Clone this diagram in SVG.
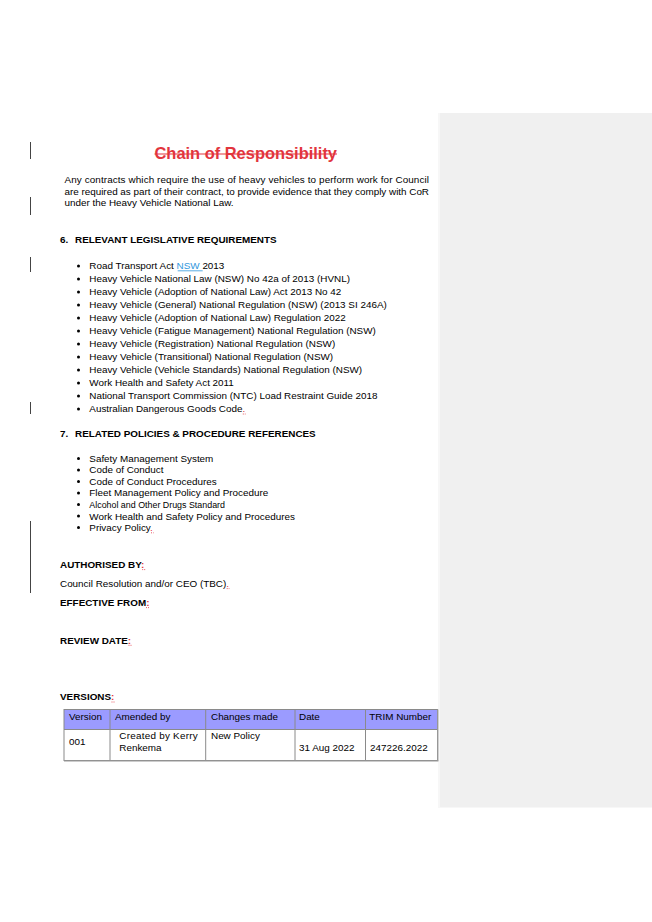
<svg xmlns="http://www.w3.org/2000/svg" width="652" height="922" viewBox="0 0 652 922">
<style>
text{font-family:"Liberation Sans",Arial,sans-serif;fill:#000;}
.b{font-size:9.9px;}
.s{font-size:8.9px;}
.h{font-size:9.9px;font-weight:bold;}
.title{font-size:16.6px;font-weight:bold;fill:#e2353d;}
.red{fill:#e2353d;}
.link{fill:#2f97dd;}
.bar{stroke:#444;stroke-width:1;}
.dot{stroke:#e2353d;stroke-width:0.8;stroke-dasharray:1,1;}
.cell{fill:none;stroke:#8a8a8a;stroke-width:1;}
</style>
<rect width="652" height="922" fill="#fff"/>
<g id="comment-pane">
<rect x="438" y="113" width="214" height="695" fill="#f7f7f7"/>
<rect x="440" y="113" width="212" height="694" fill="#f0f0f0"/>
</g>
<g id="change-bars">
<line class="bar" x1="30.5" y1="142" x2="30.5" y2="159"/>
<line class="bar" x1="30.5" y1="197" x2="30.5" y2="215"/>
<line class="bar" x1="30.5" y1="257" x2="30.5" y2="272"/>
<line class="bar" x1="30.5" y1="402" x2="30.5" y2="414"/>
<line class="bar" x1="30.5" y1="521" x2="30.5" y2="593"/>
</g>
<g id="title">
<text class="title" x="154.5" y="158.5" textLength="182.5" lengthAdjust="spacingAndGlyphs">Chain of Responsibility</text>
<line x1="154.5" y1="154" x2="337" y2="154" stroke="#e2353d" stroke-width="1.2"/>
</g>
<g id="intro">
<text class="b" x="64.5" y="182.8" textLength="364.5" lengthAdjust="spacing">Any contracts which require the use of heavy vehicles to perform work for Council</text>
<text class="b" x="64.5" y="194.5" textLength="364.5" lengthAdjust="spacing">are required as part of their contract, to provide evidence that they comply with CoR</text>
<text class="b" x="64.5" y="206.2">under the Heavy Vehicle National Law.</text>
</g>
<g id="section6">
<text class="h" x="60" y="242.8">6.</text>
<text class="h" x="75" y="242.8">RELEVANT LEGISLATIVE REQUIREMENTS</text>
<g class="bullets" fill="#000">
<circle cx="78.5" cy="266" r="1.5"/><circle cx="78.5" cy="279" r="1.5"/><circle cx="78.5" cy="292" r="1.5"/><circle cx="78.5" cy="305" r="1.5"/><circle cx="78.5" cy="318" r="1.5"/><circle cx="78.5" cy="331" r="1.5"/><circle cx="78.5" cy="344" r="1.5"/><circle cx="78.5" cy="357" r="1.5"/><circle cx="78.5" cy="370" r="1.5"/><circle cx="78.5" cy="383" r="1.5"/><circle cx="78.5" cy="396" r="1.5"/><circle cx="78.5" cy="409" r="1.5"/>
</g>
<text class="b" x="89.3" y="269.2">Road Transport Act <tspan class="link">NSW </tspan>2013</text>
<line x1="177.7" y1="270.8" x2="202.7" y2="270.8" stroke="#2f97dd" stroke-width="0.8"/>
<text class="b" x="89.3" y="282.2">Heavy Vehicle National Law (NSW) No 42a of 2013 (HVNL)</text>
<text class="b" x="89.3" y="295.2">Heavy Vehicle (Adoption of National Law) Act 2013 No 42</text>
<text class="b" x="89.3" y="308.2">Heavy Vehicle (General) National Regulation (NSW) (2013 SI 246A)</text>
<text class="b" x="89.3" y="321.2">Heavy Vehicle (Adoption of National Law) Regulation 2022</text>
<text class="b" x="89.3" y="334.2">Heavy Vehicle (Fatigue Management) National Regulation (NSW)</text>
<text class="b" x="89.3" y="347.2">Heavy Vehicle (Registration) National Regulation (NSW)</text>
<text class="b" x="89.3" y="360.2">Heavy Vehicle (Transitional) National Regulation (NSW)</text>
<text class="b" x="89.3" y="373.2">Heavy Vehicle (Vehicle Standards) National Regulation (NSW)</text>
<text class="b" x="89.3" y="386.2">Work Health and Safety Act 2011</text>
<text class="b" x="89.3" y="399.2">National Transport Commission (NTC) Load Restraint Guide 2018</text>
<text class="b" x="89.3" y="412.2">Australian Dangerous Goods Code<tspan class="red">.</tspan></text>
<line class="dot" x1="242.8" y1="414" x2="245.6" y2="414"/>
</g>
<g id="section7">
<text class="h" x="60" y="436.8">7.</text>
<text class="h" x="75" y="436.8">RELATED POLICIES &amp; PROCEDURE REFERENCES</text>
<g fill="#000">
<circle cx="78.5" cy="458.5" r="1.5"/><circle cx="78.5" cy="470" r="1.5"/><circle cx="78.5" cy="481.5" r="1.5"/><circle cx="78.5" cy="493" r="1.5"/><circle cx="78.5" cy="504.5" r="1.5"/><circle cx="78.5" cy="516" r="1.5"/><circle cx="78.5" cy="527.5" r="1.5"/>
</g>
<text class="b" x="89.3" y="461.8">Safety Management System</text>
<text class="b" x="89.3" y="473.4">Code of Conduct</text>
<text class="b" x="89.3" y="484.9">Code of Conduct Procedures</text>
<text class="b" x="89.3" y="496.4">Fleet Management Policy and Procedure</text>
<text class="s" x="89.3" y="507.5">Alcohol and Other Drugs Standard</text>
<text class="b" x="89.3" y="519.5">Work Health and Safety Policy and Procedures</text>
<text class="b" x="89.3" y="531">Privacy Policy<tspan class="red">.</tspan></text>
<line class="dot" x1="151" y1="532.8" x2="153.6" y2="532.8"/>
</g>
<g id="meta">
<text class="h" x="60" y="567.8">AUTHORISED BY<tspan class="red">:</tspan></text>
<line class="dot" x1="142.2" y1="569.6" x2="145.3" y2="569.6"/>
<text class="b" x="60" y="586.8">Council Resolution and/or CEO (TBC)<tspan class="red">.</tspan></text>
<line class="dot" x1="226.7" y1="588.6" x2="229.4" y2="588.6"/>
<text class="h" x="60" y="605.8">EFFECTIVE FROM<tspan class="red">:</tspan></text>
<line class="dot" x1="146" y1="607.6" x2="149" y2="607.6"/>
<text class="h" x="60" y="643.5">REVIEW DATE<tspan class="red">:</tspan></text>
<line class="dot" x1="128.5" y1="645.3" x2="131.5" y2="645.3"/>
<text class="h" x="60" y="700.2">VERSIONS<tspan class="red">:</tspan></text>
<line class="dot" x1="111.5" y1="702" x2="114.5" y2="702"/>
</g>
<g id="versions-table">
<rect x="64" y="709.5" width="373.5" height="20" fill="#9b9bff"/>
<rect class="cell" x="64" y="709.5" width="373.5" height="51"/>
<line class="cell" x1="64" y1="729.5" x2="437.5" y2="729.5"/>
<line class="cell" x1="110" y1="709.5" x2="110" y2="760.5"/>
<line class="cell" x1="205.7" y1="709.5" x2="205.7" y2="760.5"/>
<line class="cell" x1="295" y1="709.5" x2="295" y2="760.5"/>
<line class="cell" x1="365.5" y1="709.5" x2="365.5" y2="760.5"/>
<line x1="437.8" y1="709.5" x2="437.8" y2="761" stroke="#9a9a9a" stroke-width="1.2"/>
<line x1="64" y1="761" x2="438.4" y2="761" stroke="#9a9a9a" stroke-width="1.2"/>
<text class="b" x="69" y="719.5">Version</text>
<text class="b" x="115" y="719.5">Amended by</text>
<text class="b" x="211" y="719.5">Changes made</text>
<text class="b" x="299" y="719.5">Date</text>
<text class="b" x="369.3" y="719.5">TRIM Number</text>
<text class="b" x="69" y="745.2">001</text>
<text class="b" x="119.3" y="739.2" textLength="78.4" lengthAdjust="spacing">Created by Kerry</text>
<text class="b" x="119.3" y="751.2">Renkema</text>
<text class="b" x="211" y="739.2">New Policy</text>
<text class="b" x="299" y="751.2">31 Aug 2022</text>
<text class="b" x="370" y="751.2">247226.2022</text>
</g>
</svg>
